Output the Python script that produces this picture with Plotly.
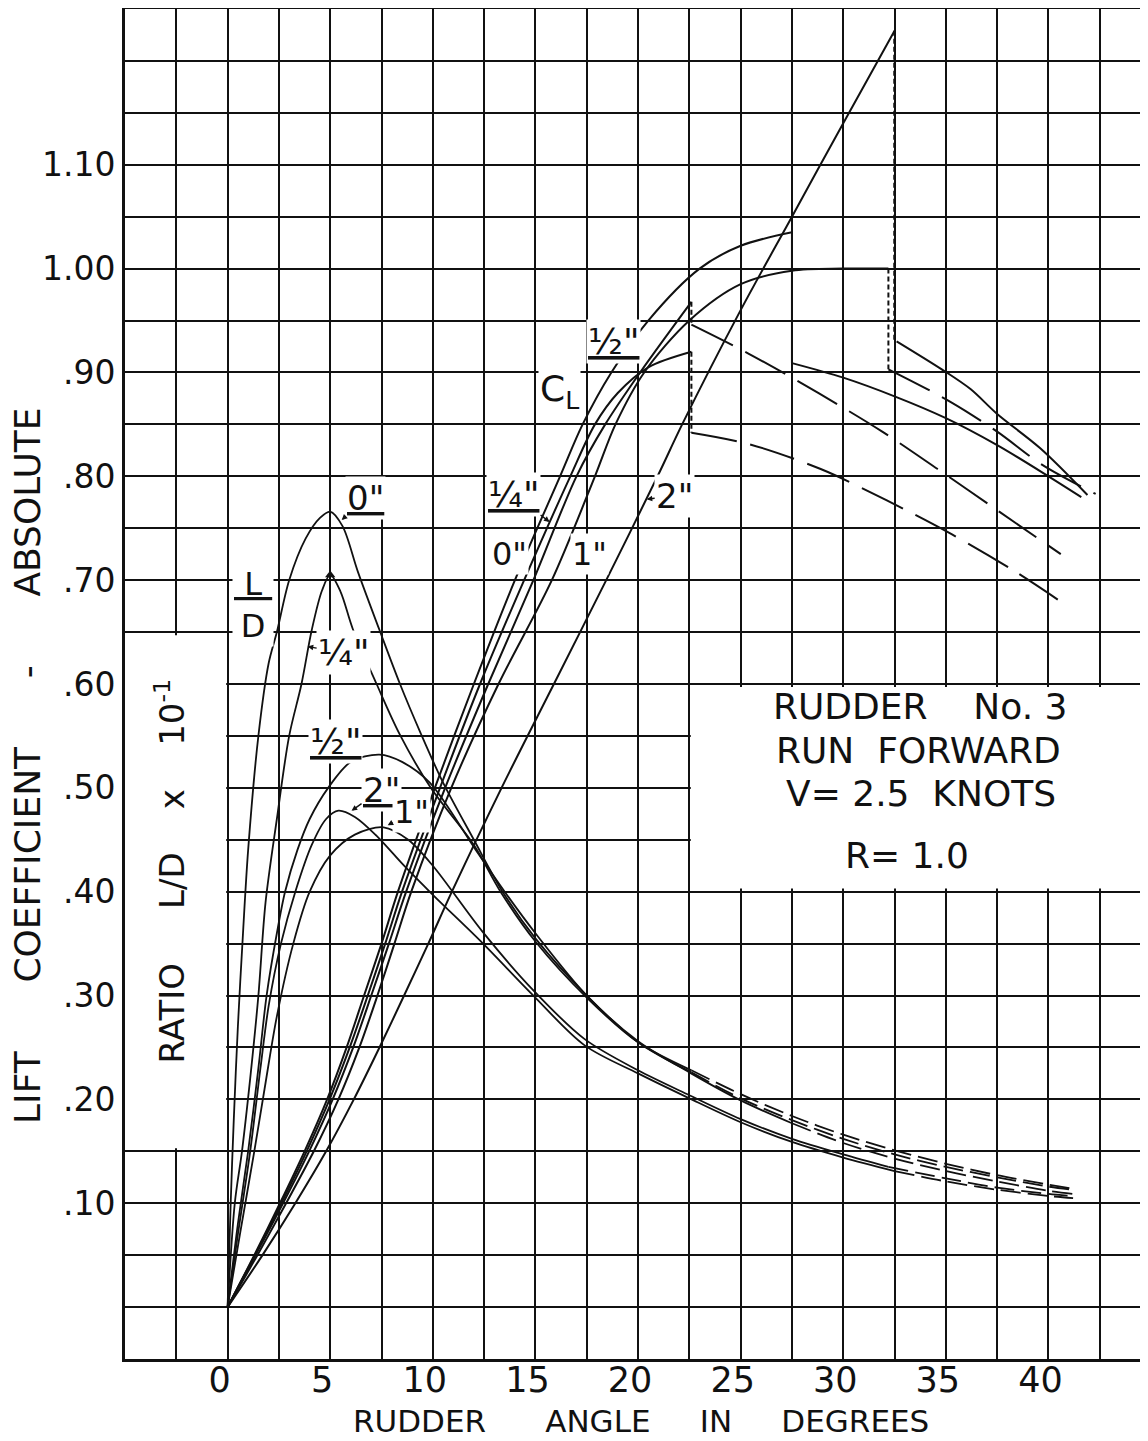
import numpy as np
import plotly.graph_objects as go

# ---------------- tick labels ----------------
x_tick_vals = [0, 5, 10, 15, 20, 25, 30, 35, 40]
x_tick_text = ["0", "5", "10", "15", "20", "25", "30", "35", "40"]
y_tick_vals = [0.10, 0.20, 0.30, 0.40, 0.50, 0.60, 0.70, 0.80, 0.90, 1.00, 1.10]
y_tick_text = [".10", ".20", ".30", ".40", ".50", ".60", ".70", ".80", ".90", "1.00", "1.10"]

# ---------------- lift coefficient C_L (rudder angle deg, C_L) ----------------
# curve peaking 1.035 at 27.5 deg
cl_a_x = [0, 1.3, 2.55, 3.75, 4.85, 5.8, 6.65, 7.5, 8.3, 10.1, 12.0, 14.0, 16.2, 17.3, 18.7, 20.5, 23.0, 25.0, 27.5]
cl_a_y = [0, .05, .10, .15, .20, .25, .30, .35, .40, .50, .60, .70, .80, .85, .90, .95, 1.00, 1.022, 1.035]
cl_a_drop_x = [27.5, 27.5]
cl_a_drop_y = [1.035, 0.909]
cl_a_post_x = [27.5, 30.0, 32.5, 35.0, 37.5, 40.0, 41.6]
cl_a_post_y = [0.909, 0.895, 0.877, 0.856, 0.830, 0.800, 0.780]

# curve peaking 0.92 at 22.6 deg
cl_d_x = [0, 1.33, 2.62, 3.85, 4.97, 5.95, 6.83, 7.68, 8.5, 10.35, 12.3, 14.45, 16.7, 17.9, 19.0, 20.5, 22.6]
cl_d_y = [0, .05, .10, .15, .20, .25, .30, .35, .40, .50, .60, .70, .80, .85, .88, .905, .920]
cl_d_drop_x = [22.6, 22.6]
cl_d_drop_y = [0.920, 0.842]
cl_d_post_x = [22.6, 25.4, 28.9, 32.1, 35.3, 38.4, 41.0]
cl_d_post_y = [0.842, 0.831, 0.807, 0.777, 0.744, 0.708, 0.674]

# curve peaking 0.968 at 22.6 deg
cl_c_x = [0, 1.36, 2.7, 3.97, 5.12, 6.12, 7.0, 7.86, 8.7, 10.6, 12.7, 14.9, 17.0, 18.4, 20.1, 22.6]
cl_c_y = [0, .05, .10, .15, .20, .25, .30, .35, .40, .50, .60, .70, .80, .85, .90, .968]
cl_c_drop_x = [22.6, 22.6]
cl_c_drop_y = [0.968, 0.946]
cl_c_post_x = [22.6, 25.4, 28.8, 31.9, 34.6, 37.6, 40.6]
cl_c_post_y = [0.946, 0.918, 0.880, 0.843, 0.807, 0.766, 0.725]

# curve levelling at 1.00 up to 32.2 deg
cl_b_x = [0, 1.45, 2.85, 4.2, 5.4, 6.42, 7.3, 8.13, 8.95, 10.9, 13.2, 15.8, 17.9, 18.9, 20.3, 22.5, 25.0, 27.5, 30.0, 32.2]
cl_b_y = [0, .05, .10, .15, .20, .25, .30, .35, .40, .50, .60, .70, .80, .85, .90, .95, .985, .998, 1.00, 1.00]
cl_b_drop_x = [32.2, 32.2]
cl_b_drop_y = [1.00, 0.903]
cl_b_post_x = [32.2, 35.2, 37.5, 39.7, 42.3]
cl_b_post_y = [0.903, 0.872, 0.843, 0.811, 0.783]

# curve reaching 1.229 at 32.5 deg
cl_e_x = [0, 1.7, 3.3, 4.8, 6.15, 7.4, 8.6, 9.78, 10.93, 13.35, 15.9, 18.45, 20.95, 22.15, 25.0, 27.5, 30.0, 32.5]
cl_e_y = [0, .05, .10, .15, .20, .25, .30, .35, .40, .50, .60, .70, .80, .85, .96, 1.05, 1.14, 1.229]
cl_e_drop_x = [32.5, 32.5]
cl_e_drop_y = [1.229, 0.930]
cl_e_post_x = [32.6, 34.8, 36.2, 37.5, 39.6, 41.9]
cl_e_post_y = [0.930, 0.903, 0.884, 0.860, 0.827, 0.782]

# ---------------- L/D ratio x 10^-1 ----------------
ld_0_x = [0, 0.15, 0.3, 0.5, 0.75, 1.0, 1.5, 2.0, 2.4, 3.0, 3.8, 4.5, 5.0, 5.6, 6.35, 7.4, 8.4, 9.4, 10.5, 12.0, 13.4, 15.0, 17.5, 20.0, 22.6]
ld_0_y = [0, .10, .18, .27, .36, .44, .55, .62, .65, .70, .74, .76, .766, .752, .708, .652, .60, .553, .505, .45, .40, .355, .30, .255, .226]
ld_0_tail_x = [22.6, 25.0, 27.5, 30.0, 32.5, 35.0, 37.5, 40.0, 41.2]
ld_0_tail_y = [.226, .201, .180, .162, .147, .135, .125, .116, .113]

ld_q_x = [0, 0.35, 0.7, 1.1, 1.5, 1.85, 2.4, 3.0, 3.6, 4.1, 4.6, 5.0, 5.5, 6.1, 7.26, 8.4, 9.9, 12.0, 13.3, 15.0, 17.5, 20.0, 22.6]
ld_q_y = [0, .10, .15, .22, .30, .39, .47, .55, .60, .652, .69, .705, .689, .653, .60, .551, .50, .445, .40, .352, .298, .255, .228]
ld_q_tail_x = [22.6, 25.0, 27.5, 30.0, 32.5, 35.0, 37.5, 40.0, 41.2]
ld_q_tail_y = [.228, .205, .184, .166, .151, .138, .127, .118, .114]

ld_h_x = [0, 0.5, 1.0, 1.5, 1.9, 2.4, 2.8, 3.4, 4.0, 4.9, 6.0, 7.4, 8.5, 9.85, 12.1, 13.5, 15.0, 17.5, 20.0, 22.5, 25.0, 27.5]
ld_h_y = [0, .08, .15, .23, .30, .36, .40, .44, .47, .50, .525, .532, .525, .505, .44, .40, .36, .30, .256, .226, .199, .177]
ld_h_tail_x = [27.5, 30.0, 32.5, 35.0, 37.5, 40.0, 41.2]
ld_h_tail_y = [.177, .158, .143, .131, .121, .112, .109]

ld_2_x = [0, 0.5, 1.1, 1.6, 2.0, 2.6, 3.3, 4.1, 4.8, 5.4, 6.2, 7.25, 8.6, 10.0, 12.4, 14.9, 17.4, 20.0, 22.5, 25.0, 27.5, 30.0, 32.5]
ld_2_y = [0, .07, .15, .23, .29, .35, .40, .445, .47, .478, .472, .454, .425, .397, .351, .30, .252, .225, .201, .178, .159, .144, .131]
ld_2_tail_x = [32.5, 35.0, 37.5, 40.0, 41.2]
ld_2_tail_y = [.131, .121, .113, .107, .105]

ld_1_x = [0, 0.6, 1.3, 1.8, 2.4, 3.2, 4.0, 5.0, 6.2, 7.6, 8.8, 10.0, 12.4, 14.9, 17.4, 20.0, 22.5, 25.0, 27.5, 30.0, 32.2]
ld_1_y = [0, .07, .15, .21, .28, .35, .40, .435, .455, .462, .45, .425, .362, .305, .258, .228, .204, .181, .162, .147, .135]
ld_1_tail_x = [32.2, 35.0, 37.5, 40.0, 41.2]
ld_1_tail_y = [.135, .124, .115, .109, .107]

# ---------------- figure ----------------
FONT = "DejaVu Sans"
INK = "#111111"
fig = go.Figure()


def add_line(x, y, dash="solid", width=2.0, shape="spline"):
    fig.add_trace(go.Scatter(
        x=x, y=y, mode="lines", hoverinfo="skip", showlegend=False,
        line=dict(color=INK, width=width, dash=dash, shape=shape, smoothing=0.9)))


CL_DASH = "46px,14px"
LD_DASH = "20px,7px"
DROP_DOT = "5px,3px"

# C_L curves
add_line(cl_a_x, cl_a_y)
add_line(cl_a_drop_x, cl_a_drop_y, shape="linear")
add_line(cl_a_post_x, cl_a_post_y)

add_line(cl_d_x, cl_d_y)
add_line(cl_d_drop_x, cl_d_drop_y, dash=DROP_DOT, shape="linear")
add_line(cl_d_post_x, cl_d_post_y, dash=CL_DASH)

add_line(cl_c_x, cl_c_y)
add_line(cl_c_drop_x, cl_c_drop_y, dash=DROP_DOT, shape="linear")
add_line(cl_c_post_x, cl_c_post_y, dash=CL_DASH)

add_line(cl_b_x, cl_b_y)
add_line(cl_b_drop_x, cl_b_drop_y, dash=DROP_DOT, shape="linear")
add_line(cl_b_post_x, cl_b_post_y, dash=CL_DASH)

add_line(cl_e_x, cl_e_y)
add_line(cl_e_drop_x, cl_e_drop_y, dash=DROP_DOT, width=2.6, shape="linear")
add_line(cl_e_post_x, cl_e_post_y)

# L/D curves
for mx, my, tx, ty in [(ld_0_x, ld_0_y, ld_0_tail_x, ld_0_tail_y),
                       (ld_q_x, ld_q_y, ld_q_tail_x, ld_q_tail_y),
                       (ld_h_x, ld_h_y, ld_h_tail_x, ld_h_tail_y),
                       (ld_2_x, ld_2_y, ld_2_tail_x, ld_2_tail_y),
                       (ld_1_x, ld_1_y, ld_1_tail_x, ld_1_tail_y)]:
    add_line(mx, my, width=1.8)
    add_line(tx, ty, dash=LD_DASH, width=1.8)

# inked blob at the peak of the 1/4" L/D curve
iq = int(np.argmax(ld_q_y))
fig.add_trace(go.Scatter(x=[ld_q_x[iq]], y=[ld_q_y[iq]], mode="markers", hoverinfo="skip",
                         showlegend=False, marker=dict(color=INK, size=9, symbol="triangle-up")))

GRID = dict(showgrid=True, gridcolor=INK, gridwidth=1.7)

# page body has an 8px margin: the figure is sized so that the plot frame lands where the chart's frame is
fig.update_layout(
    width=1140, height=1433,
    margin=dict(l=117, r=0, t=1, b=82),
    paper_bgcolor="white", plot_bgcolor="white",
    showlegend=False,
    font=dict(family=FONT, color=INK),
    xaxis=dict(range=[-5, 44.85], tickmode="array", tickvals=x_tick_vals, ticktext=x_tick_text,
               **GRID, zeroline=False, automargin=False,
               minor=dict(tickmode="linear", tick0=0, dtick=2.5, ticks="", **GRID),
               showline=True, linecolor=INK, linewidth=3, mirror=True, ticks="", ticklen=0,
               tickfont=dict(size=35, family=FONT, color=INK), ticklabelshift=-8,
               ticklabelstandoff=-12),
    yaxis=dict(range=[-0.05, 1.25], tickmode="array", tickvals=y_tick_vals, ticktext=y_tick_text,
               **GRID, zeroline=False, automargin=False,
               minor=dict(tickmode="linear", tick0=0, dtick=0.05, ticks="", **GRID),
               showline=True, linecolor=INK, linewidth=3, mirror=False, ticks="", ticklen=0,
               tickfont=dict(size=33, family=FONT, color=INK)),
)

# white label panels over the grid
fig.add_shape(type="rect", xref="x", yref="y", x0=-5, x1=-0.07, y0=0.153, y1=0.647,
              fillcolor="white", line=dict(width=0), layer="between")
fig.add_shape(type="rect", xref="x", yref="y", x0=22.57, x1=46, y0=0.403, y1=0.597,
              fillcolor="white", line=dict(width=0), layer="between")

NB = "\u00a0"
# axis titles
fig.add_annotation(xref="paper", yref="paper", x=0.5044, y=-0.0459, showarrow=False,
                   text=f"RUDDER{NB*6}ANGLE{NB*5}IN{NB*5}DEGREES",
                   font=dict(size=31, family=FONT, color=INK), xanchor="center", yanchor="middle")
fig.add_annotation(xref="paper", yref="paper", x=-0.0958, y=0.44, showarrow=False, textangle=-90,
                   text=f"LIFT{NB*6}COEFFICIENT{NB*6}-{NB*6}ABSOLUTE",
                   font=dict(size=36, family=FONT, color=INK), xanchor="center", yanchor="middle")
fig.add_annotation(xref="x", yref="y", x=-2.83, y=0.42, showarrow=False, textangle=-90,
                   text=f"RATIO{NB*5}L/D{NB*4}x{NB*4}10<sup>-1</sup>",
                   font=dict(size=34, family=FONT, color=INK), xanchor="center", yanchor="middle")

# info box
for txt, xx, yy in [(f"RUDDER{NB*4}No. 3", 33.72, 0.578),
                    (f"RUN{NB*2}FORWARD", 33.67, 0.536),
                    (f"V={NB}2.5{NB*2}KNOTS", 33.77, 0.495),
                    (f"R={NB}1.0", 33.09, 0.435)]:
    fig.add_annotation(xref="x", yref="y", x=xx, y=yy, text=txt, showarrow=False,
                       font=dict(size=36, family=FONT, color=INK), xanchor="center", yanchor="middle")

# curve labels (text, tip x, tip y, text offset px, font size)
labels = [
    ("<u>0\"</u>", 5.56, 0.758, 24, -22, 34),
    ("\u00bc\"", 3.9, 0.636, 36, 6, 36),
    ("<u>\u00bd\"</u>", 5.95, 0.523, -14, -22, 36),
    ("<u>2\"</u>", 6.04, 0.478, 30, -21, 34),
    ("1\"", 7.8, 0.464, 24, -13, 32),
    ("<u>\u00bd\"</u>", 19.0, 0.909, -4, -22, 36),
    ("<u>\u00bc\"</u>", 15.69, 0.756, -36, -28, 36),
    ("0\"", 14.08, 0.705, -7, -21, 32),
    ("1\"", 16.67, 0.72, 20, -5, 32),
    ("2\"", 20.42, 0.778, 28, -3, 34),
]
for txt, tx, ty, ax, ay, fs in labels:
    fig.add_annotation(xref="x", yref="y", x=tx, y=ty, text=txt, showarrow=True,
                       ax=ax, ay=ay, arrowhead=2, arrowsize=0.8, arrowwidth=1.4,
                       arrowcolor=INK, standoff=0,
                       font=dict(size=fs, family=FONT, color=INK), bgcolor="white")

# unpointed labels
fig.add_annotation(xref="x", yref="y", x=1.22, y=0.676, text=f"<u>{NB}L{NB}</u><br>D", showarrow=False,
                   font=dict(size=32, family=FONT, color=INK), bgcolor="white")
fig.add_annotation(xref="x", yref="y", x=16.18, y=0.882, text="C<sub>L</sub>", showarrow=False,
                   font=dict(size=36, family=FONT, color=INK), bgcolor="white")

fig.write_html("out.html")
